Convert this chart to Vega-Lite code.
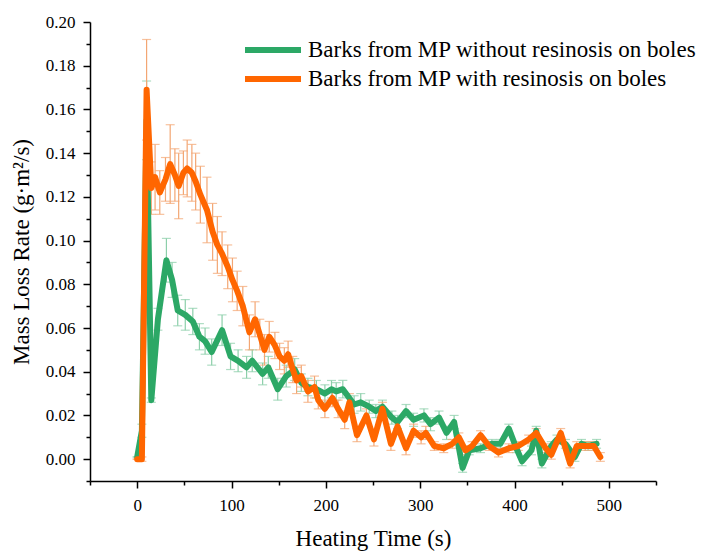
{
  "$schema": "https://vega.github.io/schema/vega-lite/v6.json",
  "width": 566,
  "height": 459,
  "autosize": {"type": "none"},
  "padding": {"left": 90, "top": 22, "right": 49, "bottom": 70},
  "background": "white",
  "config": {
    "view": {"stroke": null},
    "font": "Liberation Serif"
  },
  "datasets": {
    "green": [
      {"t": 0, "v": 0.001, "e": 0},
      {"t": 5, "v": 0.013, "e": 0.003},
      {"t": 10, "v": 0.155, "e": 0.018},
      {"t": 15, "v": 0.027, "e": 0.001},
      {"t": 22, "v": 0.064, "e": 0.005},
      {"t": 31, "v": 0.091, "e": 0.010},
      {"t": 37, "v": 0.082, "e": 0.008},
      {"t": 43, "v": 0.068, "e": 0.007},
      {"t": 51, "v": 0.066, "e": 0.007},
      {"t": 59, "v": 0.063, "e": 0.006},
      {"t": 66, "v": 0.056, "e": 0.006},
      {"t": 72, "v": 0.054, "e": 0.006},
      {"t": 79, "v": 0.049, "e": 0.006},
      {"t": 90, "v": 0.059, "e": 0.007},
      {"t": 99, "v": 0.047, "e": 0.006},
      {"t": 107, "v": 0.045, "e": 0.005},
      {"t": 116, "v": 0.042, "e": 0.005},
      {"t": 122, "v": 0.045, "e": 0.005},
      {"t": 133, "v": 0.039, "e": 0.005},
      {"t": 139, "v": 0.042, "e": 0.005},
      {"t": 149, "v": 0.032, "e": 0.005},
      {"t": 158, "v": 0.038, "e": 0.005},
      {"t": 167, "v": 0.041, "e": 0.005},
      {"t": 174, "v": 0.035, "e": 0.004},
      {"t": 181, "v": 0.033, "e": 0.004},
      {"t": 190, "v": 0.032, "e": 0.004},
      {"t": 199, "v": 0.030, "e": 0.004},
      {"t": 206, "v": 0.032, "e": 0.004},
      {"t": 211, "v": 0.031, "e": 0.004},
      {"t": 218, "v": 0.032, "e": 0.004},
      {"t": 230, "v": 0.025, "e": 0.004},
      {"t": 237, "v": 0.026, "e": 0.004},
      {"t": 246, "v": 0.024, "e": 0.003},
      {"t": 253, "v": 0.022, "e": 0.003},
      {"t": 260, "v": 0.024, "e": 0.003},
      {"t": 270, "v": 0.019, "e": 0.003},
      {"t": 276, "v": 0.017, "e": 0.003},
      {"t": 285, "v": 0.022, "e": 0.003},
      {"t": 293, "v": 0.018, "e": 0.003},
      {"t": 304, "v": 0.020, "e": 0.003},
      {"t": 311, "v": 0.016, "e": 0.003},
      {"t": 320, "v": 0.019, "e": 0.003},
      {"t": 328, "v": 0.012, "e": 0.003},
      {"t": 336, "v": 0.017, "e": 0.003},
      {"t": 345, "v": -0.004, "e": 0.002},
      {"t": 352, "v": 0.004, "e": 0.002},
      {"t": 364, "v": 0.005, "e": 0.002},
      {"t": 376, "v": 0.007, "e": 0.002},
      {"t": 385, "v": 0.007, "e": 0.002},
      {"t": 394, "v": 0.014, "e": 0.002},
      {"t": 402, "v": 0.005, "e": 0.002},
      {"t": 408, "v": -0.001, "e": 0.002},
      {"t": 418, "v": 0.004, "e": 0.002},
      {"t": 423, "v": 0.013, "e": 0.002},
      {"t": 429, "v": -0.002, "e": 0.002},
      {"t": 439, "v": 0.006, "e": 0.002},
      {"t": 445, "v": 0.009, "e": 0.002},
      {"t": 454, "v": 0.007, "e": 0.002},
      {"t": 464, "v": 0.001, "e": 0.002},
      {"t": 471, "v": 0.007, "e": 0.002},
      {"t": 478, "v": 0.006, "e": 0.002},
      {"t": 487, "v": 0.007, "e": 0.002}
    ],
    "orange": [
      {"t": 0, "v": 0.000, "e": 0},
      {"t": 5, "v": 0.000, "e": 0.001},
      {"t": 10, "v": 0.169, "e": 0.023},
      {"t": 15, "v": 0.124, "e": 0.012},
      {"t": 19, "v": 0.129, "e": 0.015},
      {"t": 24, "v": 0.122, "e": 0.010},
      {"t": 30, "v": 0.128, "e": 0.010},
      {"t": 35, "v": 0.135, "e": 0.018},
      {"t": 40, "v": 0.130, "e": 0.012},
      {"t": 44, "v": 0.125, "e": 0.015},
      {"t": 49, "v": 0.131, "e": 0.010},
      {"t": 53, "v": 0.133, "e": 0.013},
      {"t": 58, "v": 0.131, "e": 0.013},
      {"t": 62, "v": 0.127, "e": 0.013},
      {"t": 67, "v": 0.121, "e": 0.013},
      {"t": 74, "v": 0.114, "e": 0.015},
      {"t": 80, "v": 0.104, "e": 0.013},
      {"t": 85, "v": 0.098, "e": 0.013},
      {"t": 90, "v": 0.094, "e": 0.010},
      {"t": 96, "v": 0.088, "e": 0.010},
      {"t": 101, "v": 0.082, "e": 0.010},
      {"t": 106, "v": 0.077, "e": 0.009},
      {"t": 112, "v": 0.070, "e": 0.009},
      {"t": 119, "v": 0.058, "e": 0.008},
      {"t": 125, "v": 0.064, "e": 0.008},
      {"t": 130, "v": 0.057, "e": 0.007},
      {"t": 135, "v": 0.050, "e": 0.007},
      {"t": 140, "v": 0.056, "e": 0.007},
      {"t": 146, "v": 0.052, "e": 0.006},
      {"t": 151, "v": 0.047, "e": 0.006},
      {"t": 156, "v": 0.045, "e": 0.006},
      {"t": 160, "v": 0.048, "e": 0.006},
      {"t": 165, "v": 0.041, "e": 0.006},
      {"t": 169, "v": 0.036, "e": 0.006},
      {"t": 174, "v": 0.038, "e": 0.005},
      {"t": 181, "v": 0.031, "e": 0.005},
      {"t": 188, "v": 0.033, "e": 0.005},
      {"t": 192, "v": 0.027, "e": 0.004},
      {"t": 199, "v": 0.023, "e": 0.004},
      {"t": 207, "v": 0.028, "e": 0.004},
      {"t": 213, "v": 0.023, "e": 0.004},
      {"t": 220, "v": 0.018, "e": 0.004},
      {"t": 225, "v": 0.026, "e": 0.004},
      {"t": 233, "v": 0.011, "e": 0.003},
      {"t": 243, "v": 0.020, "e": 0.003},
      {"t": 251, "v": 0.009, "e": 0.003},
      {"t": 260, "v": 0.023, "e": 0.003},
      {"t": 269, "v": 0.007, "e": 0.003},
      {"t": 276, "v": 0.015, "e": 0.003},
      {"t": 285, "v": 0.005, "e": 0.003},
      {"t": 293, "v": 0.013, "e": 0.003},
      {"t": 301, "v": 0.010, "e": 0.003},
      {"t": 306, "v": 0.012, "e": 0.003},
      {"t": 315, "v": 0.006, "e": 0.002},
      {"t": 325, "v": 0.005, "e": 0.002},
      {"t": 334, "v": 0.007, "e": 0.002},
      {"t": 341, "v": 0.010, "e": 0.002},
      {"t": 348, "v": 0.004, "e": 0.002},
      {"t": 355, "v": 0.006, "e": 0.002},
      {"t": 364, "v": 0.011, "e": 0.002},
      {"t": 373, "v": 0.006, "e": 0.002},
      {"t": 383, "v": 0.003, "e": 0.002},
      {"t": 394, "v": 0.005, "e": 0.002},
      {"t": 404, "v": 0.006, "e": 0.002},
      {"t": 415, "v": 0.009, "e": 0.002},
      {"t": 423, "v": 0.012, "e": 0.002},
      {"t": 433, "v": 0.005, "e": 0.002},
      {"t": 439, "v": 0.002, "e": 0.002},
      {"t": 449, "v": 0.012, "e": 0.002},
      {"t": 459, "v": -0.002, "e": 0.002},
      {"t": 466, "v": 0.006, "e": 0.002},
      {"t": 475, "v": 0.006, "e": 0.002},
      {"t": 484, "v": 0.006, "e": 0.002},
      {"t": 491, "v": 0.001, "e": 0.002}
    ]
  },
  "encoding": {
    "x": {
      "field": "t", "type": "quantitative",
      "scale": {"domain": [-50, 550], "nice": false, "zero": false},
      "axis": {
        "title": "Heating Time (s)",
        "values": [-50, 0, 50, 100, 150, 200, 250, 300, 350, 400, 450, 500, 550],
        "labelExpr": "datum.value % 100 === 0 ? datum.value : ''",
        "tickSize": {"condition": {"test": "datum.value % 100 !== 0", "value": 4}, "value": 7},
        "grid": false, "domainColor": "black", "domainWidth": 1.5, "tickColor": "black", "tickWidth": 1.5,
        "labelFont": "Liberation Serif", "labelFontSize": 17, "labelColor": "black", "labelPadding": 9,
        "titleFont": "Liberation Serif", "titleFontSize": 23, "titleFontWeight": "normal", "titleColor": "black", "titlePadding": 14,
        "encode": {"labels": {"update": {"font": {"value": "Liberation Serif"}}}}
      }
    },
    "y": {
      "field": "v", "type": "quantitative",
      "scale": {"domain": [-0.01, 0.2], "nice": false, "zero": false},
      "axis": {
        "title": "Mass Loss Rate (g·m²/s)",
        "values": [-0.01, 0, 0.01, 0.02, 0.03, 0.04, 0.05, 0.06, 0.07, 0.08, 0.09, 0.1, 0.11, 0.12, 0.13, 0.14, 0.15, 0.16, 0.17, 0.18, 0.19, 0.2],
        "labelExpr": "round(datum.value * 100) % 2 === 0 && datum.value >= 0 ? format(datum.value, '.2f') : ''",
        "tickSize": {"condition": {"test": "round(datum.value * 100) % 2 !== 0", "value": 4}, "value": 7},
        "grid": false, "domainColor": "black", "domainWidth": 1.5, "tickColor": "black", "tickWidth": 1.5,
        "labelFont": "Liberation Serif", "labelFontSize": 17, "labelColor": "black", "labelPadding": 8,
        "titleFont": "Liberation Serif", "titleFontSize": 23, "titleFontWeight": "normal", "titleColor": "black", "titlePadding": 12,
        "encode": {"labels": {"update": {"font": {"value": "Liberation Serif"}}}}
      }
    }
  },
  "layer": [
    {
      "data": {"name": "green"},
      "mark": {"type": "errorbar", "color": "#8ccfaa", "ticks": {"size": 9}, "thickness": 1.2},
      "encoding": {"yError": {"field": "e"}}
    },
    {
      "data": {"name": "orange"},
      "mark": {"type": "errorbar", "color": "#f3a673", "ticks": {"size": 9}, "thickness": 1.2},
      "encoding": {"yError": {"field": "e"}}
    },
    {
      "data": {"name": "green"},
      "mark": {"type": "line", "strokeWidth": 6, "strokeJoin": "round", "strokeCap": "round"},
      "encoding": {
        "color": {
          "datum": "Barks from MP without resinosis on boles",
          "scale": {
            "domain": ["Barks from MP without resinosis on boles", "Barks from MP with resinosis on boles"],
            "range": ["#2ca866", "#ff6600"]
          },
          "legend": {
            "title": null, "orient": "none", "legendX": 166, "legendY": 11,
            "symbolType": "M-2,0H2", "symbolSize": 784, "symbolStrokeWidth": 6, "symbolStrokeCap": "round",
            "labelFont": "Liberation Serif", "labelFontSize": 23, "labelColor": "black",
            "labelLimit": 0, "labelOffset": 18, "rowPadding": -1,
            "encode": {"labels": {"update": {"font": {"value": "Liberation Serif"}}}}
          }
        }
      }
    },
    {
      "data": {"name": "orange"},
      "mark": {"type": "line", "strokeWidth": 6, "strokeJoin": "round", "strokeCap": "round"},
      "encoding": {
        "color": {"datum": "Barks from MP with resinosis on boles"}
      }
    }
  ]
}
